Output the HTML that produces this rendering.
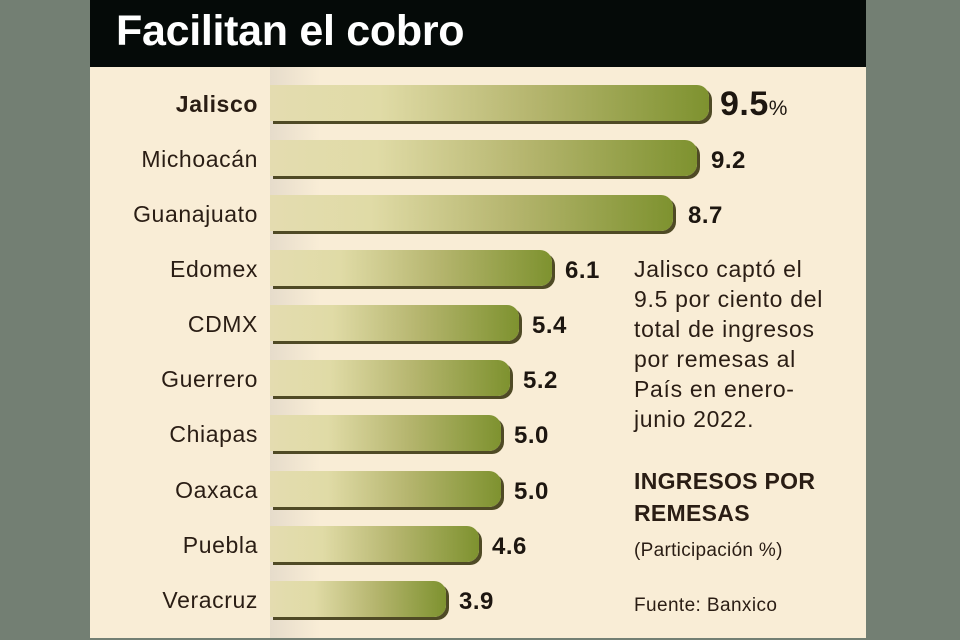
<!DOCTYPE html>
<html><head><meta charset="utf-8"><style>
body{margin:0;width:960px;height:640px;background:#737f73;position:relative;overflow:hidden;font-family:"Liberation Sans",sans-serif;}
#panel{position:absolute;left:90px;top:0;width:776px;height:638px;background:#f9edd6;}
#head{position:absolute;left:90px;top:0;width:776px;height:67px;background:#050a08;}
#head span{position:absolute;left:26px;top:7px;color:#fff;font-weight:bold;font-size:43px;letter-spacing:-0.3px;}
#shade{position:absolute;left:270px;top:67px;width:50px;height:571px;background:linear-gradient(90deg,#e6dccb,#f9edd6);}
.lab{position:absolute;right:702px;font-size:23px;letter-spacing:0.6px;color:#2a1d14;line-height:26px;}
.bar{position:absolute;left:270px;height:36px;border-radius:0 12px 12px 0;background:linear-gradient(90deg,#e4dcb0 0%,#e0dba6 25%,#b5b56e 60%,#7e922f 100%);box-shadow:3px 3px 0 #4f4a25;}
.val{position:absolute;font-size:24px;letter-spacing:0.5px;font-weight:bold;color:#1d1610;line-height:26px;}
.t{position:absolute;left:634px;font-size:23px;letter-spacing:0.7px;color:#2a1d14;line-height:30px;}
</style></head><body>
<div id="panel"></div><div id="shade"></div>
<div id="head"><span>Facilitan el cobro</span></div>

<div class="lab" style="top:91px;font-weight:bold">Jalisco</div>
<div class="lab" style="top:146px">Michoacán</div>
<div class="lab" style="top:201px">Guanajuato</div>
<div class="lab" style="top:256px">Edomex</div>
<div class="lab" style="top:311px">CDMX</div>
<div class="lab" style="top:366px">Guerrero</div>
<div class="lab" style="top:421px">Chiapas</div>
<div class="lab" style="top:477px">Oaxaca</div>
<div class="lab" style="top:532px">Puebla</div>
<div class="lab" style="top:587px">Veracruz</div>

<div class="bar" style="top:85px;width:439px"></div>
<div class="bar" style="top:140px;width:427px"></div>
<div class="bar" style="top:195px;width:403px"></div>
<div class="bar" style="top:250px;width:282px"></div>
<div class="bar" style="top:305px;width:249px"></div>
<div class="bar" style="top:360px;width:240px"></div>
<div class="bar" style="top:415px;width:231px"></div>
<div class="bar" style="top:471px;width:231px"></div>
<div class="bar" style="top:526px;width:209px"></div>
<div class="bar" style="top:581px;width:176px"></div>

<div class="val" style="left:720px;top:86px;font-size:34px;line-height:36px">9.5<span style="font-size:21px;font-weight:normal">%</span></div>
<div class="val" style="left:711px;top:148px">9.2</div>
<div class="val" style="left:688px;top:203px">8.7</div>
<div class="val" style="left:565px;top:258px">6.1</div>
<div class="val" style="left:532px;top:313px">5.4</div>
<div class="val" style="left:523px;top:368px">5.2</div>
<div class="val" style="left:514px;top:423px">5.0</div>
<div class="val" style="left:514px;top:479px">5.0</div>
<div class="val" style="left:492px;top:534px">4.6</div>
<div class="val" style="left:459px;top:589px">3.9</div>

<div class="t" style="top:254px">Jalisco captó el<br>9.5 por ciento del<br>total de ingresos<br>por remesas al<br>País en enero-<br>junio 2022.</div>
<div class="t" style="top:465px;font-weight:bold;line-height:32px;letter-spacing:0.3px">INGRESOS POR<br>REMESAS</div>
<div class="t" style="top:536px;font-size:19px;letter-spacing:0.3px">(Participación %)</div>
<div class="t" style="top:591px;font-size:19px;letter-spacing:0.4px">Fuente: Banxico</div>
</body></html>
